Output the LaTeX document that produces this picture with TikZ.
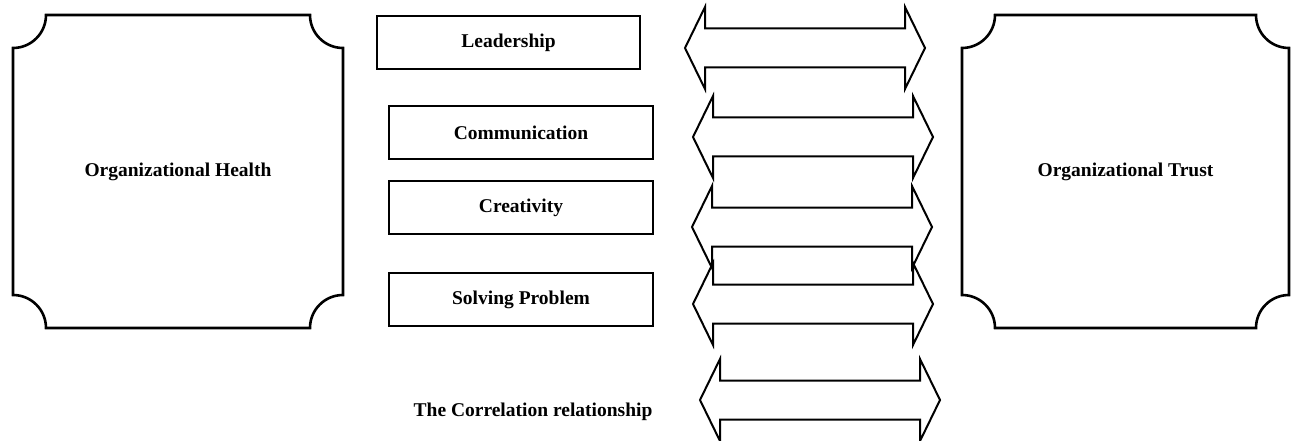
\documentclass[tikz,border=0pt]{standalone}
\usepackage{fontspec}
\setmainfont{Liberation Serif}

% double headed block arrow, left tip at #1
\newcommand{\twoway}[1]{%
  \draw [arrowline] (#1)
    -- ++(20, 41) -- ++(0, -21.5) -- ++(200, 0) -- ++(0, 21.5)
    -- ++(20, -41)
    -- ++(-20, -41) -- ++(0, 21.5) -- ++(-200, 0) -- ++(0, -21.5)
    -- cycle;
}

% box with scooped corners round node #1
\newcommand{\scoop}[1]{%
  \draw [heavy]
       ([xshift=33pt]#1.north west)
    -- ([xshift=-33pt]#1.north east) arc (180:270:33)
    -- ([yshift=33pt]#1.south east) arc (90:180:33)
    -- ([xshift=33pt]#1.south west) arc (0:90:33)
    -- ([yshift=-33pt]#1.north west) arc (270:360:33)
    -- cycle;
}

\tikzset{
  label font/.style={font=\fontsize{19.5}{23}\selectfont\bfseries},
  bigbox/.style={label font, inner sep=0pt, outer sep=0pt},
  factor/.style={draw, line width=1.2pt, label font, minimum height=53pt, inner sep=0pt},
  heavy/.style={line width=2.6pt, line join=miter},
  arrowline/.style={line width=2pt, line join=miter},
}

\begin{document}
\begin{tikzpicture}[x=1pt, y=1pt]
\useasboundingbox (0, 0) rectangle (1291, 440);

\node [bigbox, minimum width=330pt, minimum height=313pt] (health) at (178, 268.5) {Organizational Health};
\scoop{health}
\node [bigbox, minimum width=327pt, minimum height=313pt] (trust) at (1125.5, 268.5) {Organizational Trust};
\scoop{trust}

\node [factor, minimum width=263pt] (lead)  at (508.5, 397.5) {Leadership};
\node [factor, minimum width=264pt] (comm)  at (521, 307.5) {Communication};
\node [factor, minimum width=264pt] (creat) at (521, 232.5) {Creativity};
\node [factor, minimum width=264pt] (solve) at (521, 140.5) {Solving Problem};

%
\coordinate (tip1) at (685, 392);
\coordinate (tip2) at (693, 303);
\coordinate (tip3) at (692, 213);
\coordinate (tip4) at (693, 136);
\coordinate (tip5) at (700, 40);
\twoway{tip1}
\twoway{tip2}
\twoway{tip3}
\twoway{tip4}
\twoway{tip5}

\node [label font] (corr) at (533, 28) {The Correlation relationship};
\end{tikzpicture}
\end{document}
